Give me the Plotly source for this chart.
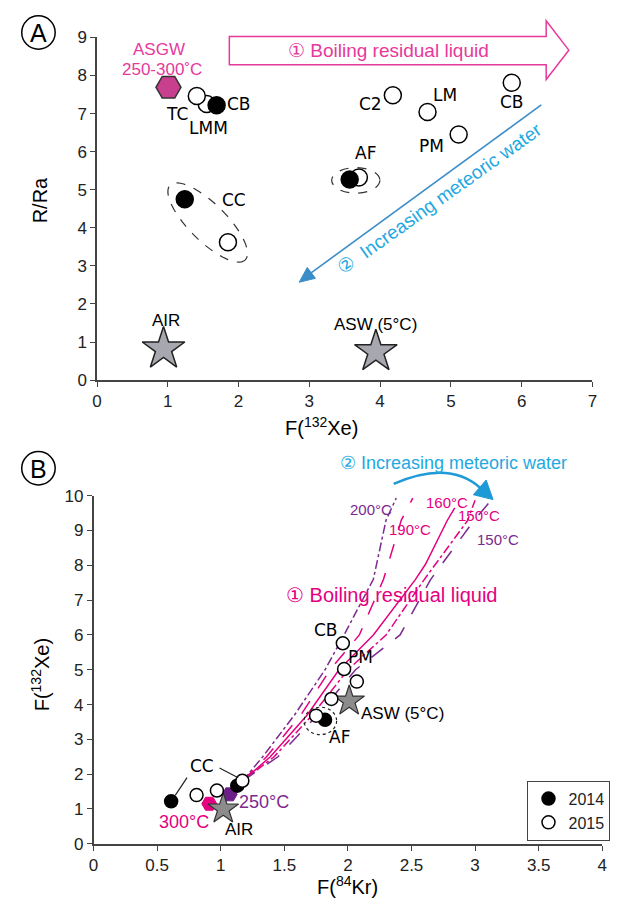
import numpy as np
import plotly.graph_objects as go

# ---------------- data ----------------
# Panel A : R/Ra vs F(132Xe)
a14_x = [1.69, 1.24, 3.57]
a14_y = [7.22, 4.75, 5.27]
a15_x = [1.55, 1.41, 1.85, 3.70, 4.18, 4.67, 5.11, 5.86]
a15_y = [7.25, 7.46, 3.62, 5.32, 7.48, 7.04, 6.45, 7.81]
asgw_x = [1.01]
asgw_y = [7.69]
a_star_x = [0.94, 3.94]
a_star_y = [0.82, 0.75]
a_labels = ["TC", "LMM", "CB", "CC", "AF", "C2", "LM", "PM", "CB"]
a_lab_x = [1.13, 1.58, 2.01, 1.94, 3.80, 3.87, 4.92, 4.72, 5.86]
a_lab_y = [6.99, 6.63, 7.25, 4.73, 5.96, 7.25, 7.48, 6.14, 7.30]

# Panel B : F(132Xe) vs F(84Kr)
b14_x = [0.61, 1.13, 1.82]
b14_y = [1.22, 1.67, 3.56]
b15_x = [0.81, 0.97, 1.17, 1.75, 1.87, 2.07, 1.97, 1.96]
b15_y = [1.40, 1.53, 1.81, 3.68, 4.16, 4.66, 5.02, 5.76]
hex_x = [0.91, 1.07]
hex_y = [1.15, 1.42]
b_star_x = [1.02, 2.01]
b_star_y = [1.00, 4.10]

c200_x = [1.17, 1.33, 1.58, 1.82, 1.97, 2.20, 2.30, 2.38]
c200_y = [1.80, 2.50, 3.70, 5.00, 6.00, 7.60, 9.30, 9.93]
c190_x = [1.17, 1.36, 1.63, 1.86, 2.09, 2.28, 2.42, 2.51]
c190_y = [1.80, 2.50, 3.70, 5.00, 6.00, 7.60, 9.30, 9.93]
c160_x = [1.17, 1.39, 1.68, 1.93, 2.20, 2.53, 2.61, 2.78, 2.84]
c160_y = [1.80, 2.50, 3.70, 5.00, 6.00, 7.59, 8.03, 9.28, 9.65]
c150p_x = [1.17, 1.42, 1.72, 2.00, 2.30, 2.60, 2.94, 3.00]
c150p_y = [1.80, 2.50, 3.70, 5.00, 6.00, 7.59, 9.28, 9.87]
c150v_x = [1.17, 1.45, 1.76, 2.06, 2.41, 2.65, 2.99, 3.12]
c150v_y = [1.80, 2.50, 3.70, 5.00, 6.00, 7.59, 9.28, 9.84]

# ---------------- style ----------------
W, H = 624, 915
PINK = "#e4007f"
PINK2 = "#e6399b"
PURPLE = "#7b2a8f"
CYAN = "#1fa9e1"
BLUE = "#3b8dc9"
AXC = "#444444"
FONT = "Liberation Sans"
LFONT = "DejaVu Sans"


def PX(x):
    return x / W


def PY(y):
    return 1 - y / H


def poly(pts):
    return "M " + " L ".join(f"{PX(x):.5f},{PY(y):.5f}" for x, y in pts) + " Z"


fig = go.Figure()

# ---- panel A traces ----
fig.add_trace(go.Scatter(x=a15_x, y=a15_y, mode="markers", xaxis="x", yaxis="y",
                         marker=dict(size=17, color="white", line=dict(color="black", width=1.5)),
                         showlegend=False))
fig.add_trace(go.Scatter(x=a14_x, y=a14_y, mode="markers", xaxis="x", yaxis="y",
                         marker=dict(size=17, color="black", line=dict(color="black", width=1.5)),
                         showlegend=False))
fig.add_trace(go.Scatter(x=asgw_x, y=asgw_y, mode="markers", xaxis="x", yaxis="y",
                         marker=dict(size=25, symbol="hexagon2", color="#c83f8e",
                                     line=dict(color="#333333", width=1.5)),
                         showlegend=False))
fig.add_trace(go.Scatter(x=a_star_x, y=a_star_y, mode="markers", xaxis="x", yaxis="y",
                         marker=dict(size=32, symbol="star", color="#a7a7b0",
                                     line=dict(color="#222222", width=1.5)),
                         showlegend=False))

# ---- panel B traces ----
curves = [
    (c200_x, c200_y, PURPLE, "dashdot"),
    (c190_x, c190_y, PINK, "longdash"),
    (c160_x, c160_y, PINK, "solid"),
    (c150p_x, c150p_y, PINK, "dashdot"),
    (c150v_x, c150v_y, PURPLE, "longdash"),
]
for cx, cy, col, dsh in curves:
    fig.add_trace(go.Scatter(x=cx, y=cy, mode="lines", xaxis="x2", yaxis="y2",
                             line=dict(color=col, width=1.5, dash=dsh), showlegend=False))

fig.add_trace(go.Scatter(x=hex_x, y=hex_y, mode="markers", xaxis="x2", yaxis="y2",
                         marker=dict(size=15, symbol="hexagon2", color=[PINK, "#6a2088"],
                                     line=dict(color=[PINK, "#6a2088"], width=1)),
                         showlegend=False))
fig.add_trace(go.Scatter(x=b_star_x, y=b_star_y, mode="markers", xaxis="x2", yaxis="y2",
                         marker=dict(size=23, symbol="star", color="#8c8c8c",
                                     line=dict(color="#333333", width=1.2)),
                         showlegend=False))
fig.add_trace(go.Scatter(x=b14_x, y=b14_y, mode="markers", xaxis="x2", yaxis="y2", name="2014",
                         marker=dict(size=13, color="black", line=dict(color="black", width=1.5)),
                         showlegend=True))
fig.add_trace(go.Scatter(x=b15_x, y=b15_y, mode="markers", xaxis="x2", yaxis="y2", name="2015",
                         marker=dict(size=13, color="white", line=dict(color="black", width=1.5)),
                         showlegend=True))

# ---------------- shapes ----------------
shapes = []
# panel letters circles
for cx, cy in [(34, 24), (34, 469)]:
    shapes.append(dict(type="circle", xref="paper", yref="paper",
                       x0=PX(cx - 17), x1=PX(cx + 17), y0=PY(cy + 17), y1=PY(cy - 17),
                       line=dict(color="black", width=1.5)))

# pink hollow arrow (panel A)
shapes.append(dict(type="path", xref="paper", yref="paper",
                   path=poly([(228, 28), (550, 28), (550, 12), (573, 42), (550, 72), (550, 57), (228, 57)]),
                   line=dict(color=PINK2, width=1.5), fillcolor="white"))

# blue straight arrow (panel A)
shapes.append(dict(type="line", xref="paper", yref="paper",
                   x0=PX(545), y0=PY(98), x1=PX(309), y1=PY(271),
                   line=dict(color=BLUE, width=1.6)))
shapes.append(dict(type="path", xref="paper", yref="paper",
                   path=poly([(299, 279), (315.5, 275.0), (307.2, 263.9)]),
                   line=dict(color=BLUE, width=1), fillcolor=BLUE))

# CC dashed rotated ellipse (panel A)
t = np.linspace(0, 2 * np.pi, 60)
th = np.deg2rad(45)
ex = 206 + 54 * np.cos(t) * np.cos(th) - 19 * np.sin(t) * np.sin(th)
ey = 218 + 54 * np.cos(t) * np.sin(th) + 19 * np.sin(t) * np.cos(th)
shapes.append(dict(type="path", xref="paper", yref="paper", path=poly(list(zip(ex, ey))),
                   line=dict(color="#333333", width=1.2, dash="dash")))
# AF dashed ellipse (panel A)
shapes.append(dict(type="circle", xref="paper", yref="paper",
                   x0=PX(332), x1=PX(381), y0=PY(188), y1=PY(162),
                   line=dict(color="#333333", width=1.2, dash="dash")))
# AF dashed circle (panel B)
shapes.append(dict(type="circle", xref="paper", yref="paper",
                   x0=PX(304), x1=PX(337), y0=PY(741), y1=PY(713),
                   line=dict(color="#222222", width=1.2, dash="dot")))
# CC leader lines (panel B)
for (x0, y0, x1, y1) in [(185, 785, 173, 803), (218, 775, 237, 785)]:
    shapes.append(dict(type="line", xref="paper", yref="paper",
                       x0=PX(x0), y0=PY(y0), x1=PX(x1), y1=PY(y1),
                       line=dict(color="#222222", width=1.2)))
# curved blue arrow (panel B)
shapes.append(dict(type="path", xref="paper", yref="paper",
                   path=f"M {PX(395):.5f},{PY(485):.5f} Q {PX(452):.5f},{PY(460):.5f} {PX(484):.5f},{PY(490):.5f}",
                   line=dict(color="#1e9ad6", width=2.5)))
shapes.append(dict(type="path", xref="paper", yref="paper",
                   path=poly([(496, 501), (476, 496), (489, 481)]),
                   line=dict(color="#1e9ad6", width=1), fillcolor="#1e9ad6"))

# ---------------- annotations ----------------
ann = []


def txt(x, y, s, size=17, color="black", font=FONT, xref="paper", yref="paper", **kw):
    d = dict(x=x, y=y, xref=xref, yref=yref, text=s, showarrow=False,
             font=dict(size=size, color=color, family=font), xanchor="center", yanchor="middle")
    d.update(kw)
    ann.append(d)


txt(PX(34), PY(25), "A", size=25)
txt(PX(34), PY(470), "B", size=25)

# axis titles
txt(PX(36), PY(195), "R/Ra", size=20, textangle=-90)
txt(PX(322), PY(426), "F(<sup>132</sup>Xe)", size=20)
txt(PX(36), PY(680), "F(<sup>132</sup>Xe)", size=20, textangle=-90)
txt(PX(348), PY(895), "F(<sup>84</sup>Kr)", size=20)

# panel A texts
txt(PX(390), PY(42), "\u2460 Boiling residual liquid", size=19, color=PINK2)
txt(PX(156), PY(41), "ASGW", size=17, color=PINK2)
txt(PX(160), PY(62), "250-300\u02daC", size=17, color=PINK2)
for s, x, y in zip(a_labels, a_lab_x, a_lab_y):
    txt(x, y, s, size=17, font=LFONT, xref="x", yref="y")
txt(a_star_x[0] + 0.03, 1.57, "AIR", size=17, xref="x", yref="y")
txt(a_star_x[1], 1.47, "ASW (5\u00b0C)", size=17, xref="x", yref="y")
txt(PX(442), PY(194), "\u2461  Increasing meteoric water", size=19, color=CYAN, textangle=-35.5)

# panel B texts
txt(PX(456), PY(464), "\u2461 Increasing meteoric water", size=18, color=CYAN)
txt(PX(393), PY(598), "\u2460 Boiling residual liquid", size=20, color=PINK)
txt(2.18, 9.59, "200\u00b0C", size=15, color=PURPLE, xref="x2", yref="y2")
txt(2.49, 9.03, "190\u00b0C", size=15, color=PINK, xref="x2", yref="y2")
txt(2.78, 9.80, "160\u00b0C", size=15, color=PINK, xref="x2", yref="y2")
txt(3.03, 9.42, "150\u00b0C", size=15, color=PINK, xref="x2", yref="y2")
txt(3.18, 8.75, "150\u00b0C", size=15, color=PURPLE, xref="x2", yref="y2")
txt(1.83, 6.13, "CB", size=17, font=LFONT, xref="x2", yref="y2")
txt(2.10, 5.37, "PM", size=17, font=LFONT, xref="x2", yref="y2")
txt(1.93, 3.08, "AF", size=17, font=LFONT, xref="x2", yref="y2")
txt(0.85, 2.24, "CC", size=17, font=LFONT, xref="x2", yref="y2")
txt(2.43, 3.73, "ASW (5\u00b0C)", size=17, xref="x2", yref="y2")
txt(1.34, 1.20, "250\u00b0C", size=18, color=PURPLE, xref="x2", yref="y2")
txt(0.71, 0.63, "300\u00b0C", size=18, color=PINK, xref="x2", yref="y2")
txt(1.14, 0.41, "AIR", size=17, xref="x2", yref="y2")

axis_common = dict(showgrid=False, zeroline=False, showline=True, linecolor=AXC, linewidth=1.5,
                   ticks="outside", ticklen=5, tickcolor=AXC, tickwidth=1.2,
                   tickfont=dict(size=17, family=FONT, color="#222222"))

fig.update_layout(
    width=W, height=H, margin=dict(l=0, r=0, t=0, b=0),
    paper_bgcolor="white", plot_bgcolor="white",
    xaxis=dict(domain=[PX(93.5), PX(597)], range=[0, 7], dtick=1, anchor="y", **axis_common),
    yaxis=dict(domain=[PY(379), PY(29)], range=[0, 9], dtick=1, anchor="x", **axis_common),
    xaxis2=dict(domain=[PX(90), PX(607)], range=[0, 4], dtick=0.5, anchor="y2", **axis_common),
    yaxis2=dict(domain=[PY(852.5), PY(497)], range=[0, 10], dtick=1, anchor="x2", **axis_common),
    shapes=shapes, annotations=ann,
    legend=dict(x=PX(531), y=PY(788), xanchor="left", yanchor="top",
                bordercolor="#444444", borderwidth=1, bgcolor="white",
                font=dict(size=16, family=FONT, color="#222222"), itemwidth=30,
                tracegroupgap=2),
    font=dict(family=FONT),
)

fig.write_html("out.html")
